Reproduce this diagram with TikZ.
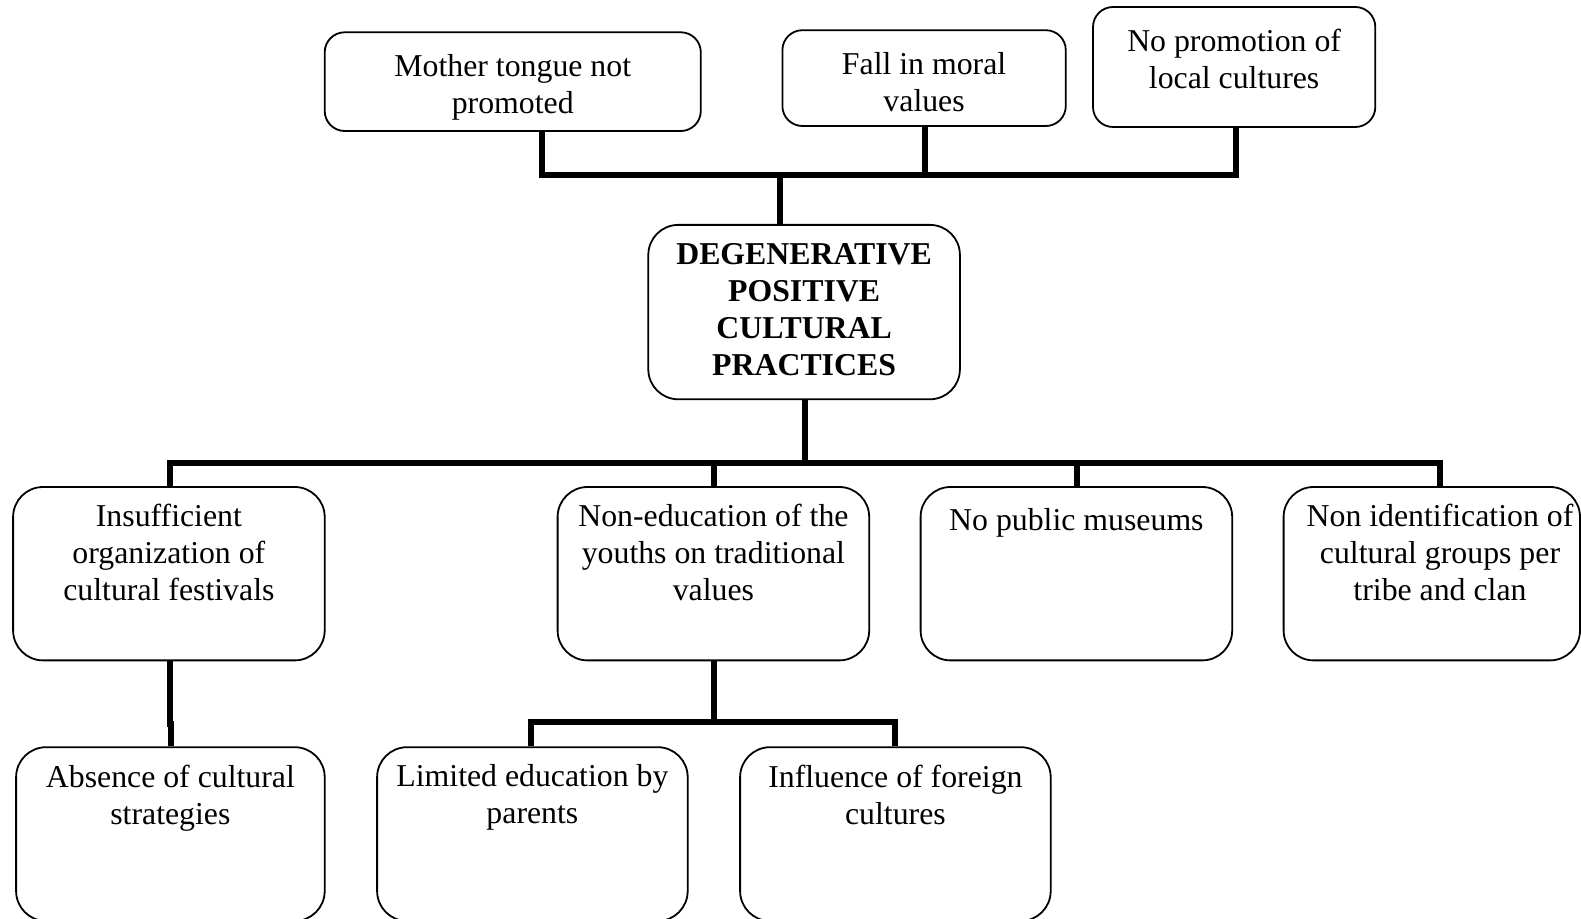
\documentclass[tikz,border=0pt]{standalone}
\usepackage{fontspec}
\setmainfont{Liberation Serif}
\usetikzlibrary{fit}

\begin{document}
\begin{tikzpicture}[x=0.5pt,y=-0.5pt,
  box/.style={draw, line width=0.9pt, rounded corners=15pt, inner sep=0pt},
  topbox/.style={box, rounded corners=10pt},
  conn/.style={line width=3pt, line join=miter},
  txt/.style={anchor=north, align=center, inner sep=0pt,
    font=\fontsize{15.9}{18.5}\selectfont, execute at begin node=\strut},
  toptxt/.style={txt, yshift=-11.5pt},
  boxtxt/.style={txt, yshift=-9pt}
]
\useasboundingbox (0,0) rectangle (1581,919);

% upper row of causes
\node[topbox, fit={(324.7,32.3) (700.8,131)},
  label={[toptxt]north:{Mother tongue not\\promoted}}] (A) {};
\node[topbox, fit={(782.4,30.2) (1065.8,126)},
  label={[toptxt]north:{Fall in moral\\values}}] (B) {};
\node[topbox, fit={(1093,7) (1375.3,127)},
  label={[toptxt]north:{No promotion of\\local cultures}}] (C) {};

% central problem
\node[box, fit={(648.3,224.9) (959.9,399.3)},
  label={[boxtxt, yshift=-0.5pt, font=\fontsize{15.9}{18.5}\selectfont\bfseries]north:{DEGENERATIVE\\POSITIVE\\CULTURAL\\PRACTICES}}] (X) {};

% middle row
\node[box, fit={(13.1,487) (324.7,660.4)},
  label={[boxtxt]north:{Insufficient\\organization of\\cultural festivals}}] (D) {};
\node[box, fit={(557.6,487) (869.2,660.4)},
  label={[boxtxt]north:{Non-education of the\\youths on traditional\\values}}] (E) {};
\node[box, fit={(920.6,487) (1232.2,660.4)},
  label={[boxtxt]north:{No public museums}}] (F) {};
\node[box, fit={(1283.6,487) (1580,660.4)},
  label={[boxtxt, xshift=4.1pt]north:{Non identification of\\cultural groups per\\tribe and clan}}] (G) {};

% lower row
\node[box, fit={(16.1,747.2) (324.7,921)},
  label={[boxtxt]north:{Absence of cultural\\strategies}}] (H) {};
\node[box, fit={(377.1,747.2) (687.7,921)},
  label={[boxtxt]north:{Limited education by\\parents}}] (I) {};
\node[box, fit={(740.1,747.2) (1050.7,921)},
  label={[boxtxt]north:{Influence of foreign\\cultures}}] (J) {};

% junction points of the connector bars
\coordinate (ja) at (541.5,175.4);
\coordinate (jb) at (924.6,175.4);
\coordinate (jc) at (1236.2,175.4);
\coordinate (jx) at (780.4,175.4);

\coordinate (jm) at (804.6,462.8);
\coordinate (jd) at (169.5,462.8);
\coordinate (je) at (713.9,462.8);
\coordinate (jf) at (1076.9,462.8);
\coordinate (jg) at (1439.9,462.8);

\coordinate (k1) at (169.5,723.5);
\coordinate (k2) at (171.3,723.5);

\coordinate (jn) at (713.9,722);
\coordinate (ji) at (531.4,722);
\coordinate (jj) at (895.4,722);

% upper causes into the central box
\draw[conn] (A.south -| ja) |- (jx) -- (X.north -| jx);
\draw[conn] (C.south -| jc) |- (jx) -- (X.north -| jx);
\draw[conn] (B.south -| jb) -- (jb);

% central box down to the middle row
\draw[conn] (X.south -| jm) -- (jm) -- (jd) -- (D.north -| jd);
\draw[conn] (X.south -| jm) -- (jm) -- (jg) -- (G.north -| jg);
\draw[conn] (je) -- (E.north -| je);
\draw[conn] (jf) -- (F.north -| jf);

% middle row down to the lower row
\draw[conn] (D.south -| k1) -- (k1) -- (k2) -- (H.north -| k2);
\draw[conn] (E.south -| jn) -- (jn) -- (ji) -- (I.north -| ji);
\draw[conn] (E.south -| jn) -- (jn) -- (jj) -- (J.north -| jj);
\end{tikzpicture}
\end{document}
